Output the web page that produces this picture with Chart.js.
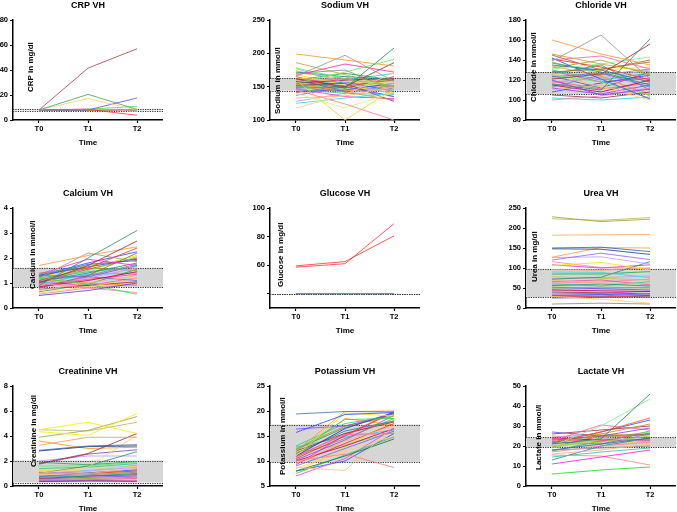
<!DOCTYPE html>
<html>
<head>
<meta charset="utf-8">
<script src="https://cdn.jsdelivr.net/npm/chart.js@4.4.0/dist/chart.umd.min.js"></script>
<style>
html, body { margin: 0; padding: 0; background: #fff; width: 677px; height: 512px; overflow: hidden; position: relative; }
canvas { position: absolute; }
</style>
</head>
<body>
<script>
// time points, shared by all panels
const timeLabels = ['T0', 'T1', 'T2'];
const timeValues = [0, 1, 2];

// one row per subject: [T0, T1, T2]
const crpValues = [
    [8, 41.5, 57], [8, 20.5, 8.5], [8, 17.2, 8], [8, 8, 17.6], [8, 8.5, 11],
    [8, 8.5, 3.8], [8, 9, 7], [8, 8, 8.5], [8, 8, 8], [8, 8, 8]
];
const sodiumValues = [
    [199, 190, 181], [166, 197, 158], [158, 148, 208], [155, 172, 191], [186, 168, 150],
    [167, 184, 172], [162, 150, 186], [118, 138, 171], [160, 100, 147], [145, 124, 100],
    [140, 118, 141], [125, 133, 140], [178, 162, 151], [177, 156, 139], [133, 136, 150],
    [172, 165, 161], [150, 142, 130], [155, 160, 162], [148, 150, 135], [163, 158, 155],
    [170, 175, 145], [152, 155, 128], [146, 140, 138], [158, 162, 150], [165, 148, 165],
    [143, 145, 155], [160, 170, 160], [154, 144, 146], [137, 150, 135], [168, 152, 140],
    [150, 160, 170], [147, 135, 132], [174, 158, 148], [156, 165, 141], [162, 142, 152],
    [141, 152, 160], [153, 147, 163], [128, 140, 148], [171, 162, 157], [149, 157, 143]
];
const chlorideValues = [
    [160, 146, 135], [139, 165, 121], [116, 110, 161], [121, 126, 156], [146, 136, 128],
    [131, 136, 143], [140, 144, 131], [142, 121, 101], [120, 105, 111], [100, 104, 112],
    [135, 130, 118], [128, 131, 138], [125, 118, 105], [118, 122, 130], [110, 115, 102],
    [137, 128, 115], [132, 140, 125], [115, 108, 120], [123, 127, 113], [127, 113, 100],
    [113, 125, 131], [105, 102, 108], [130, 120, 127], [119, 111, 117], [141, 133, 120],
    [108, 117, 125], [126, 135, 110], [134, 124, 104], [112, 106, 115], [122, 130, 133],
    [102, 100, 103], [129, 118, 122], [138, 126, 119], [117, 123, 106], [124, 112, 128],
    [145, 130, 140]
];
const calciumValues = [
    [0.9, 2.0, 3.1], [1.0, 1.7, 2.68], [1.7, 2.1, 2.45], [1.1, 1.6, 2.4], [1.2, 2.2, 1.85],
    [1.35, 1.95, 1.7], [1.3, 1.65, 1.95], [0.5, 0.7, 1.0], [1.2, 0.95, 0.55], [1.0, 0.8, 0.62],
    [1.25, 1.75, 1.9], [0.8, 1.3, 2.2], [1.15, 1.5, 2.05], [0.95, 1.2, 1.6], [0.7, 1.0, 1.3],
    [1.05, 1.4, 1.8], [1.4, 1.6, 1.5], [0.85, 1.1, 1.45], [1.3, 1.25, 1.1], [0.6, 0.85, 1.2],
    [1.1, 1.3, 1.75], [0.75, 0.9, 1.05], [1.2, 1.45, 1.65], [0.9, 1.15, 1.35], [1.0, 1.55, 2.0],
    [1.3, 1.8, 2.25], [0.65, 0.95, 1.55], [1.15, 1.0, 0.9], [0.8, 1.25, 1.7], [1.25, 1.6, 2.1],
    [0.95, 1.35, 1.4], [1.05, 0.9, 1.2], [1.35, 1.7, 1.95], [0.55, 0.8, 0.95]
];
const glucoseValues = [
    [58.6, 61, 89], [59.5, 62.5, 80.5], [40, 40, 40]
];
const ureaValues = [
    [228, 216, 222], [223, 219, 226], [182, 183, 184], [150, 152, 141], [148, 147, 134],
    [127, 151, 150], [120, 137, 121], [126, 128, 110], [106, 114, 95], [108, 100, 108],
    [72, 77, 116], [116, 101, 99], [90, 89, 76], [73, 76, 80], [70, 62, 61],
    [56, 60, 55], [50, 52, 50], [45, 43, 41], [32, 30, 36], [29, 22, 12],
    [10, 12, 10], [40, 38, 35], [60, 55, 66], [66, 70, 58], [28, 29, 27],
    [31, 34, 31], [85, 85, 91], [96, 95, 100], [52, 48, 45], [55, 57, 62],
    [47, 49, 52], [35, 37, 42], [78, 74, 70], [62, 65, 72], [25, 26, 30]
];
const creatinineValues = [
    [4.5, 5.1, 4.2], [4.35, 4.05, 5.8], [3.9, 4.45, 5.55], [4.5, 4.4, 5.1], [3.25, 3.9, 3.9],
    [1.8, 2.6, 4.2], [2.85, 3.2, 3.3], [2.8, 3.15, 3.2], [1.0, 1.5, 4.1], [1.75, 2.55, 2.9],
    [1.0, 1.6, 2.75], [2.0, 2.4, 2.4], [1.6, 1.6, 1.9], [1.0, 1.2, 1.5], [0.9, 1.0, 1.4],
    [0.7, 0.8, 1.0], [0.5, 0.6, 0.7], [0.35, 0.4, 0.4], [0.4, 0.45, 0.35], [1.2, 1.3, 1.6],
    [0.8, 0.9, 1.1], [0.6, 0.8, 0.9], [1.4, 1.5, 1.8], [0.45, 0.5, 0.6], [1.1, 1.0, 1.2],
    [0.75, 1.05, 1.3], [1.9, 1.7, 1.95], [3.6, 3.0, 3.1], [0.55, 0.7, 0.8], [1.3, 1.15, 1.0],
    [0.95, 1.25, 1.65]
];
const potassiumValues = [
    [19.4, 19.9, 19.8], [15.7, 19.3, 19.7], [12, 19.9, 20], [11, 19.6, 19], [12, 18.3, 18.5],
    [16.4, 17, 19.5], [11, 16.5, 19.7], [11, 15.3, 15.5], [10.5, 15, 19.8], [10, 11.4, 8.7],
    [8.7, 8.1, 17], [8, 11, 14.4], [7.5, 11.2, 14.8], [7, 10.5, 16.5], [9.5, 14, 17],
    [11.5, 16, 18], [12.5, 17, 19], [10, 13, 16.5], [9, 12.5, 16], [8.5, 12, 15],
    [11, 14.5, 18.5], [12, 15.5, 17.8], [13, 17.5, 19], [10.8, 15.5, 18], [9.5, 13.5, 17.5],
    [8, 10, 15.5], [12.3, 16.7, 19.4], [11.2, 18.5, 17.2], [10.2, 14.2, 19.1], [7.8, 12.8, 18.2],
    [12.8, 14.8, 16.2], [9.2, 15.2, 19.9], [11.8, 13.2, 15.8]
];
const lactateValues = [
    [6, 8, 9.5], [21, 23.5, 46], [20, 30, 43.5], [11, 14.5, 18], [15.5, 15, 10.5],
    [22, 27, 34], [27, 25, 29], [22.5, 30.5, 28], [20, 22, 25], [17, 20, 22],
    [18, 21, 24], [23, 25, 26], [19, 24, 27], [25, 24, 22], [16, 18, 21],
    [13, 20, 24], [21, 26, 31], [24, 23, 23], [22, 21, 26], [20, 23, 21],
    [18, 19, 20], [26, 28, 30], [14.5, 17, 19], [23.5, 22, 27.5], [19.5, 25, 24],
    [21.5, 27, 33], [17.5, 22.5, 26.5], [24.5, 26, 25]
];

// reference ranges [low, high]
const crpRange = [7.6, 8.6];
const sodiumRange = [144, 163];
const chlorideRange = [106, 128];
const calciumRange = [0.83, 1.61];
const glucoseRange = [40, 40];
const ureaRange = [26.5, 98];
const creatinineRange = [0.28, 2.04];
const potassiumRange = [9.8, 17.3];
const lactateRange = [19.3, 24.3];

// y tick values
const crpTicks = [0, 20, 40, 60, 80];
const sodiumTicks = [100, 150, 200, 250];
const chlorideTicks = [80, 100, 120, 140, 160, 180];
const calciumTicks = [0, 1, 2, 3, 4];
const glucoseTicks = [40, 60, 80, 100];
const ureaTicks = [0, 50, 100, 150, 200, 250];
const creatinineTicks = [0, 2, 4, 6, 8];
const potassiumTicks = [5, 10, 15, 20, 25];
const lactateTicks = [0, 10, 20, 30, 40, 50];

const palette = ['#ff2a2a', '#2f4fff', '#22b04a', '#ff9a1f', '#9b3dff', '#f2e600', '#19d3f0', '#ff2fd0',
    '#a6d82a', '#ff7fa8', '#3d6f9e', '#a0662e', '#5cf25c', '#c09cff', '#ffb080', '#129a8e',
    '#a8a02a', '#d1005e', '#6a6aff', '#ffd060', '#8a8a8a', '#a3333d', '#35c99a', '#ff4f9a'];

const FONT = 'Liberation Sans, Arial, sans-serif';

const panels = [
    { title: 'CRP VH', yTitle: 'CRP in mg/dl', values: crpValues, range: crpRange, ticks: crpTicks, min: 0, max: 80,
      colors: ['#b3434f', '#4aa57a', '#ffd27a', '#5b5bff', '#55dd55', '#ff3b3b', '#ff99cc', '#ff9900', '#2e7d32', '#8b4513'],
      left: 13, top: 20, labelDx: 18, labelBottom: 72 },
    { title: 'Sodium VH', yTitle: 'Sodium in mmol/l', values: sodiumValues, range: sodiumRange, ticks: sodiumTicks, min: 100, max: 250,
      colors: ['#ff9933', '#9a9a9a', '#2e8b57', '#66ee66', '#b5a642', '#ff3399', '#a0303a', '#ffcc88', '#ffcc33', '#ff8080', '#ccff66', '#33ddff'],
      left: 270, top: 20, labelDx: 8, labelBottom: 94 },
    { title: 'Chloride VH', yTitle: 'Chloride in mmol/l', values: chlorideValues, range: chlorideRange, ticks: chlorideTicks, min: 80, max: 180,
      colors: ['#ff9933', '#9a9a9a', '#2e8b57', '#a0303a', '#b5a642', '#88ee88', '#ff66aa', '#3355ff', '#8844ee'],
      left: 526, top: 20, labelDx: 8, labelBottom: 82 },
    { title: 'Calcium VH', yTitle: 'Calcium in mmol/l', values: calciumValues, range: calciumRange, ticks: calciumTicks, min: 0, max: 4,
      colors: ['#2e9b6a', '#a0303a', '#ff9933', '#ff3b3b', '#9a9a9a', '#ff33cc', '#3355ff', '#6644cc', '#44dd44', '#ff88aa'],
      left: 13, top: 208, labelDx: 20, labelBottom: 81 },
    { title: 'Glucose VH', yTitle: 'Glucose in mg/dl', values: glucoseValues, range: glucoseRange, ticks: glucoseTicks, min: 30, max: 100,
      colors: ['#ff3b3b', '#ff3b3b', '#3344ff'], hideTick: 40,
      left: 270, top: 208, labelDx: 11, labelBottom: 79 },
    { title: 'Urea VH', yTitle: 'Urea in mg/dl', values: ureaValues, range: ureaRange, ticks: ureaTicks, min: 0, max: 250,
      colors: ['#a8a040', '#bdb76b', '#ffaa66', '#3366aa', '#224488', '#ff9955', '#9966ff', '#c0a0ff', '#f2e600', '#dd33dd', '#2e9b6a', '#ff88aa', '#33dddd'],
      left: 526, top: 208, labelDx: 9, labelBottom: 74 },
    { title: 'Creatinine VH', yTitle: 'Creatinine in mg/dl', values: creatinineValues, range: creatinineRange, ticks: creatinineTicks, min: 0, max: 8,
      colors: ['#f2f200', '#f2f200', '#a8a040', '#bdb76b', '#ff9955', '#a0303a', '#3366aa', '#224488', '#ffcc88', '#8844cc', '#2e9b6a', '#b0a0ff'],
      left: 13, top: 386, labelDx: 21, labelBottom: 81 },
    { title: 'Potassium VH', yTitle: 'Potassium in mmol/l', values: potassiumValues, range: potassiumRange, ticks: potassiumTicks, min: 5, max: 25,
      colors: ['#4477aa', '#2f4fff', '#ff9933', '#f2e600', '#22dd55', '#9944ff', '#5522aa', '#ff66aa', '#ff2a2a', '#ff8080', '#ffc080', '#1a7a3a', '#33cc55', '#ee44ee'],
      left: 270, top: 386, labelDx: 13, labelBottom: 89 },
    { title: 'Lactate VH', yTitle: 'Lactate in mmol/l', values: lactateValues, range: lactateRange, ticks: lactateTicks, min: 0, max: 50,
      colors: ['#22dd22', '#2e8b6a', '#88ee88', '#ff22dd', '#ff8888', '#ff5522', '#8844ee', '#ff66aa'],
      left: 526, top: 386, labelDx: 13, labelBottom: 84 }
];

const refBand = {
    id: 'refBand',
    beforeDatasetsDraw(chart, args, opts) {
        const { ctx, chartArea: a, scales: { y } } = chart;
        const hi = y.getPixelForValue(opts.range[1]);
        const lo = y.getPixelForValue(opts.range[0]);
        ctx.save();
        ctx.fillStyle = '#d6d6d6';
        ctx.fillRect(a.left, hi, a.right - a.left, lo - hi);
        ctx.strokeStyle = '#333';
        ctx.lineWidth = 1;
        ctx.setLineDash([1.2, 1.2]);
        opts.range.forEach(v => {
            const py = Math.round(y.getPixelForValue(v)) + 0.5;
            ctx.beginPath();
            ctx.moveTo(a.left, py);
            ctx.lineTo(a.right, py);
            ctx.stroke();
        });
        ctx.restore();
    },
    afterDatasetsDraw(chart, args, opts) {
        const { ctx, chartArea: a } = chart;
        // y axis title sits inside the plot
        ctx.save();
        ctx.translate(a.left + opts.labelDx, a.top + opts.labelBottom);
        ctx.rotate(-Math.PI / 2);
        ctx.fillStyle = '#000';
        ctx.font = 'bold 8px ' + FONT;
        ctx.textAlign = 'left';
        ctx.textBaseline = 'middle';
        ctx.fillText(opts.label, 0, 0);
        ctx.restore();
    }
};

function makePanel(p) {
    const canvas = document.createElement('canvas');
    canvas.width = 172;
    canvas.height = 148;
    canvas.style.width = '172px';
    canvas.style.height = '148px';
    canvas.style.left = (p.left - 22) + 'px';
    canvas.style.top = (p.top - 20) + 'px';
    document.body.appendChild(canvas);

    const datasets = p.values.map((row, i) => ({
        data: row.map((v, j) => ({ x: timeValues[j], y: v })),
        borderColor: p.colors[i] || palette[i % palette.length],
        borderWidth: 0.85,
        pointRadius: 0,
        tension: 0,
        fill: false
    }));

    const axisCommon = {
        grid: { drawOnChartArea: false, drawTicks: true, tickLength: 3, tickWidth: 1.2, tickColor: '#000' },
        border: { display: true, color: '#000', width: 1.5 }
    };

    new Chart(canvas, {
        type: 'line',
        data: { datasets: datasets },
        options: {
            responsive: false,
            animation: false,
            events: [],
            layout: { padding: 0 },
            plugins: {
                legend: { display: false },
                tooltip: { enabled: false },
                title: {
                    display: true,
                    text: p.title,
                    fullSize: false,
                    color: '#000',
                    font: { family: FONT, size: 9, weight: 'bold', lineHeight: 1.2 },
                    padding: { top: 0, bottom: 9.2 }
                },
                refBand: { range: p.range, label: p.yTitle, labelDx: p.labelDx, labelBottom: p.labelBottom }
            },
            scales: {
                x: Object.assign({}, axisCommon, {
                    type: 'linear',
                    min: -0.53,
                    max: 2.53,
                    afterBuildTicks: s => { s.ticks = timeValues.map(v => ({ value: v })); },
                    afterFit: s => { s.height = 28; },
                    ticks: {
                        color: '#000', padding: 1.5, maxRotation: 0,
                        font: { family: FONT, size: 7.5, weight: 'bold' },
                        callback: v => timeLabels[v]
                    },
                    title: {
                        display: true, text: 'Time', color: '#000',
                        font: { family: FONT, size: 8, weight: 'bold', lineHeight: 1.2 },
                        padding: 0
                    }
                }),
                y: Object.assign({}, axisCommon, {
                    type: 'linear',
                    min: p.min,
                    max: p.max,
                    afterBuildTicks: s => { s.ticks = p.ticks.map(v => ({ value: v })); },
                    afterFit: s => { s.width = 22; },
                    ticks: {
                        color: '#000', padding: 2,
                        font: { family: FONT, size: 7.5, weight: 'bold' },
                        callback: v => (v === p.hideTick ? '' : v)
                    }
                })
            }
        },
        plugins: [refBand]
    });
}

panels.forEach(makePanel);
</script>
</body>
</html>
